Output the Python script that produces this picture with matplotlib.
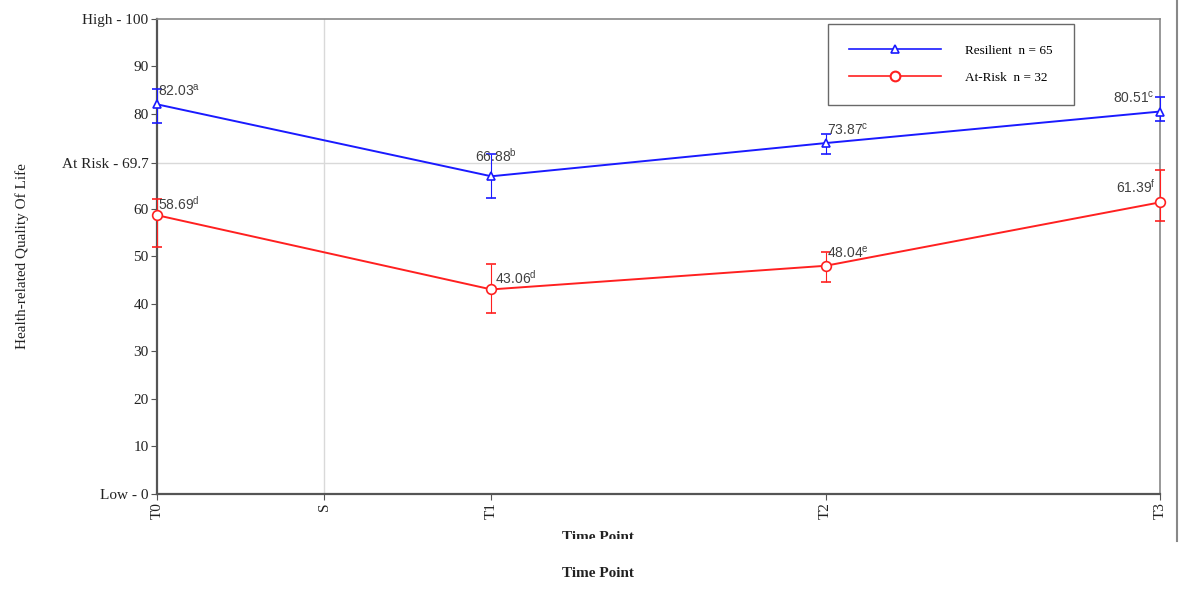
import matplotlib.pyplot as plt
from matplotlib.lines import Line2D
from matplotlib.patches import Rectangle

# x positions on the time axis (S sits halfway between T0 and T1)
time_pos = [0, 2, 4, 6]
tick_pos = [0, 1, 2, 4, 6]
tick_labels = ["T0", "S", "T1", "T2", "T3"]

resilient = [82.03, 66.88, 73.87, 80.51]
resilient_lo = [78.1, 62.3, 71.6, 78.5]
resilient_hi = [85.3, 71.6, 75.8, 83.6]
resilient_sup = ["a", "b", "c", "c"]

at_risk = [58.69, 43.06, 48.04, 61.39]
at_risk_lo = [52.0, 38.1, 44.6, 57.5]
at_risk_hi = [62.1, 48.4, 50.9, 68.2]
at_risk_sup = ["d", "d", "e", "f"]

y_ticks = [0, 10, 20, 30, 40, 50, 60, 69.7, 80, 90, 100]
y_tick_labels = ["Low - 0", "10", "20", "30", "40", "50", "60",
                 "At Risk - 69.7", "80", "90", "High - 100"]

serif = "Liberation Serif"
sans = "Liberation Sans"
blue = "#1a1aff"
red = "#ff2020"

fig = plt.figure(figsize=(11.81, 5.94), dpi=100)
ax = fig.add_axes([0.1329, 0.1684, 0.8493, 0.7997])

ax.axvline(1, color="#d9d9d9", lw=1, zorder=0)
ax.axhline(69.7, color="#d9d9d9", lw=1, zorder=0)


def draw_series(vals, lo, hi, color, marker, ms):
    yerr = [[v - l for v, l in zip(vals, lo)], [h - v for v, h in zip(vals, hi)]]
    ax.errorbar(time_pos, vals, yerr=yerr, color=color, lw=1.4, elinewidth=0.8,
                capsize=3.5, capthick=0.8, marker=marker, ms=ms, mfc="white",
                mec=color, mew=1.2, clip_on=False, zorder=3)


draw_series(resilient, resilient_lo, resilient_hi, blue, "^", 6)
draw_series(at_risk, at_risk_lo, at_risk_hi, red, "o", 7)

# value labels (offsets in points)
blue_off = [((1, 4), "left"), ((-12, 8), "left"), ((1, 4), "left"), ((-4, 4), "right")]
red_off = [((1, 2), "left"), ((3, 2), "left"), ((1, 4), "left"), ((-3, 5), "right")]
for vals, sups, offs in [(resilient, resilient_sup, blue_off),
                         (at_risk, at_risk_sup, red_off)]:
    for x, v, s, (off, ha) in zip(time_pos, vals, sups, offs):
        ax.annotate(f"{v:.2f}" + r"$^\mathregular{" + s + "}$", (x, v),
                    xytext=off, textcoords="offset points", ha=ha, va="bottom",
                    fontsize=10, family=sans, color="#404040")

ax.set_xlim(0, 6)
ax.set_ylim(0, 100)
ax.set_xticks(tick_pos)
ax.set_xticklabels(tick_labels, rotation=90, family=serif, fontsize=11)
ax.set_yticks(y_ticks)
ax.set_yticklabels(y_tick_labels, family=serif, fontsize=11)
ax.tick_params(length=4, width=0.8, color="#555555", labelcolor="#222222", pad=2)

for side in ["left", "bottom"]:
    ax.spines[side].set_color("#555555")
    ax.spines[side].set_linewidth(1.6)
for side in ["top", "right"]:
    ax.spines[side].set_color("#888888")
    ax.spines[side].set_linewidth(1.2)

ax.set_ylabel("Health-related Quality Of Life", family=serif, fontsize=11,
              color="#222222", labelpad=24)

handles = [Line2D([], [], color=blue, lw=1.2, marker="^", ms=6, mfc="white", mec=blue, mew=1.2),
           Line2D([], [], color=red, lw=1.2, marker="o", ms=7, mfc="white", mec=red, mew=1.5)]
leg = ax.legend(handles, ["Resilient  n = 65", "At-Risk  n = 32"],
                loc="upper left", bbox_to_anchor=(0.669, 0.99), frameon=True,
                fancybox=False, edgecolor="#444444", handlelength=7,
                borderpad=1.6, handletextpad=1.8, labelspacing=1.1,
                borderaxespad=0, prop={"family": serif, "size": 9.5})
leg.get_frame().set_linewidth(1.0)

# clipped duplicate axis title as in the source image
fig.text(0.506, 0.085, "Time Point", family=serif, fontsize=11, ha="center",
         va="bottom", color="#222222", fontweight="bold")
fig.patches.append(Rectangle((0.4, 0.0), 0.2, 0.093, transform=fig.transFigure,
                             facecolor="white", edgecolor="none", zorder=5))
fig.text(0.506, 0.024, "Time Point", family=serif, fontsize=11, ha="center",
         va="bottom", color="#222222", fontweight="bold", zorder=6)

# page border line on the right
fig.lines.append(Line2D([0.9966, 0.9966], [0.09, 1.0], transform=fig.transFigure,
                        color="#888888", lw=1.5))

fig.savefig("out.png", dpi=100, facecolor="white")
